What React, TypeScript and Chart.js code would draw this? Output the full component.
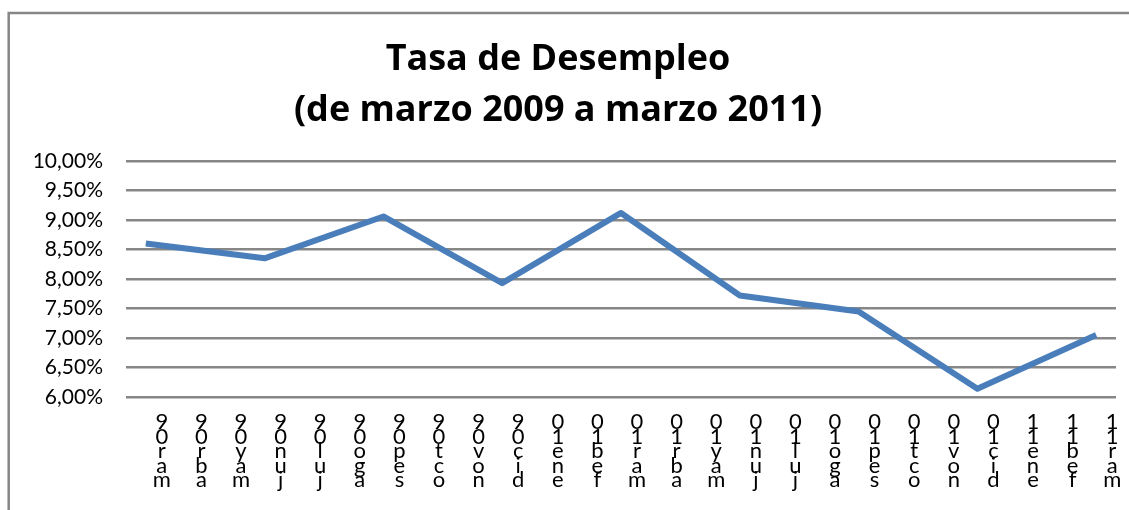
import React, { useEffect, useRef } from "react";
import { Chart, registerables } from "chart.js";

Chart.register(...registerables);

const MONTHS = ["mar-09","abr-09","may-09","jun-09","jul-09","ago-09","sep-09","oct-09","nov-09","dic-09","ene-10","feb-10","mar-10","abr-10","may-10","jun-10","jul-10","ago-10","sep-10","oct-10","nov-10","dic-10","ene-11","feb-11","mar-11"];
// Quarterly observations (null = no observation for that month)
const TASA: (number | null)[] = [8.60,null,null,8.35,null,null,9.06,null,null,7.93,null,null,9.12,null,null,7.72,null,null,7.45,null,null,6.14,null,null,7.05];
const TITLE_LINES = ["Tasa de Desempleo", "(de marzo 2009 a marzo 2011)"];
const Y_MIN = 6;
const Y_MAX = 10;
const Y_STEP = 0.5;

const frame = {
  id: "frame",
  beforeDraw(chart: any) {
    const ctx = chart.ctx;
    ctx.save();
    ctx.fillStyle = "#ffffff";
    ctx.fillRect(0, 0, chart.width, chart.height);
    ctx.strokeStyle = "#868686";
    ctx.lineWidth = 2.5;
    ctx.beginPath();
    ctx.moveTo(8.7, chart.height);
    ctx.lineTo(8.7, 13);
    ctx.lineTo(chart.width, 13);
    ctx.stroke();
    ctx.restore();
  },
};

export default function App() {
  const ref = useRef<HTMLCanvasElement>(null);
  useEffect(() => {
    const chart = new Chart(ref.current!, {
      type: "line",
      data: {
        labels: MONTHS,
        datasets: [
          {
            label: "Tasa de Desempleo",
            data: TASA,
            borderColor: "#4a7ebb",
            backgroundColor: "#4a7ebb",
            borderWidth: 6,
            pointRadius: 0,
            pointHoverRadius: 0,
            spanGaps: true,
            tension: 0,
            borderJoinStyle: "round",
          },
        ],
      },
      options: {
        responsive: false,
        animation: false,
        layout: { padding: { left: 0, right: 13, top: 0, bottom: 0 } },
        plugins: {
          legend: { display: false },
          tooltip: { enabled: false },
          title: {
            display: true,
            text: TITLE_LINES,
            color: "#000000",
            font: { family: "'Open Sans'", size: 36, weight: "bold", lineHeight: 51 / 36 },
            padding: { top: 34, bottom: 25 },
          },
        },
        scales: {
          x: {
            offset: true,
            grid: { display: false, drawTicks: false },
            border: { display: false },
            afterFit(scale: any) {
              scale.height = 113;
            },
            ticks: {
              autoSkip: false,
              maxRotation: 0,
              minRotation: 0,
              padding: 18,
              labelOffset: 16,
              color: "#000000",
              font: { family: "Lato", size: 22, lineHeight: 14.5 / 22 },
              callback: function (this: any, value: any) {
                const s: string = this.getLabelForValue(value);
                return s.replace("-", "").split("").reverse();
              },
            },
          },
          y: {
            min: Y_MIN,
            max: Y_MAX,
            grid: { color: "#878787", lineWidth: 2.5, drawTicks: false },
            border: { display: false },
            afterFit(scale: any) {
              scale.width = 126;
            },
            ticks: {
              stepSize: Y_STEP,
              padding: 23,
              color: "#000000",
              font: { family: "Lato", size: 21 },
              callback: (v: any) => Number(v).toFixed(2).replace(".", ",") + "%",
            },
          },
        },
      },
      plugins: [frame],
    });
    return () => chart.destroy();
  }, []);
  return (
    <canvas
      ref={ref}
      width={1129}
      height={510}
      style={{ position: "fixed", top: 0, left: 0, display: "block" }}
    />
  );
}
